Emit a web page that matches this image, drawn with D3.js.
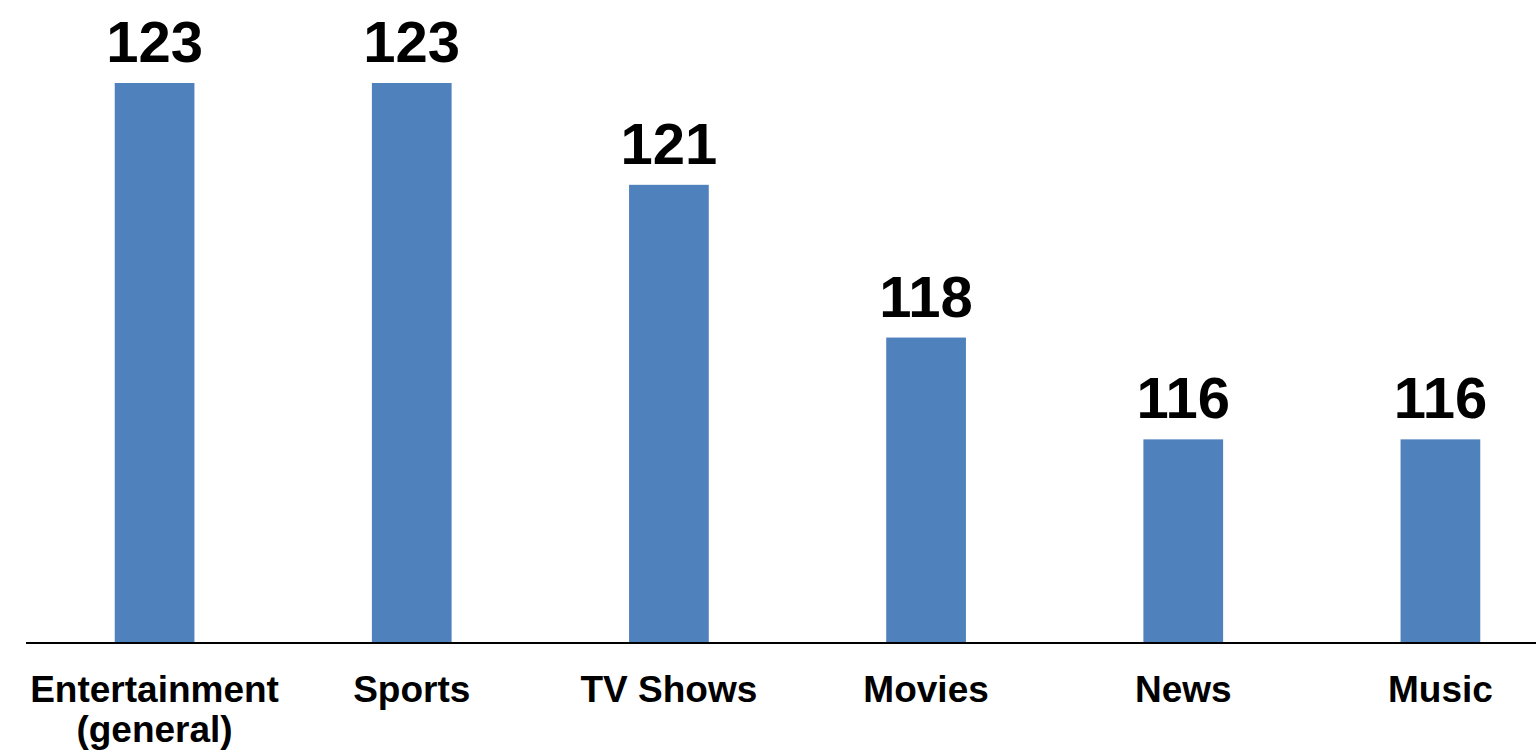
<!DOCTYPE html>
<html>
<head>
<meta charset="utf-8">
<script src="https://cdn.jsdelivr.net/npm/d3@7"></script>
<style>
  body { margin: 0; background: #fff; }
  text { font-family: "Liberation Sans", Arial, sans-serif; font-weight: bold; fill: #000; }
</style>
</head>
<body>
<svg id="chart" width="1536" height="754"></svg>
<script>
// chart data
const categories = ["Entertainment\n(general)", "Sports", "TV Shows", "Movies", "News", "Music"];
const values = [123, 123, 121, 118, 116, 116];
const yMin = 112;

const W = 1536, H = 754;
const baseY = 643, topY = 83;
var svg = d3.select("#chart");

var x = d3.scaleBand()
  .domain(categories)
  .range([26, 1569])
  .paddingInner(0.69)
  .paddingOuter(0.345);
var y = d3.scaleLinear()
  .domain([yMin, d3.max(values)])
  .range([baseY, topY]);

// bars
svg.selectAll("rect.bar")
  .data(values)
  .enter().append("rect")
  .attr("class", "bar")
  .attr("x", (d, i) => x(categories[i]))
  .attr("width", x.bandwidth())
  .attr("y", d => y(d))
  .attr("height", d => baseY - y(d))
  .style("fill", "#4F81BD");

// value labels above bars
svg.selectAll("text.val")
  .data(values)
  .enter().append("text")
  .attr("class", "val")
  .attr("x", (d, i) => x(categories[i]) + x.bandwidth() / 2)
  .attr("y", d => y(d) - 21)
  .attr("text-anchor", "middle")
  .style("font-size", "58px")
  .text(d => d);

// baseline
svg.append("line")
  .attr("x1", 26).attr("x2", W)
  .attr("y1", baseY).attr("y2", baseY)
  .attr("stroke", "black").attr("stroke-width", 2);

// category labels, split on newline
var cat = svg.selectAll("text.cat")
  .data(categories)
  .enter().append("text")
  .attr("class", "cat")
  .attr("text-anchor", "middle")
  .style("font-size", "37px");
cat.each(function(d){
  var t = d3.select(this);
  var cx = x(d) + x.bandwidth() / 2;
  d.split("\n").forEach(function(line, k){
    t.append("tspan")
      .attr("x", cx)
      .attr("y", 702 + k * 40)
      .text(line);
  });
});
</script>
</body>
</html>
